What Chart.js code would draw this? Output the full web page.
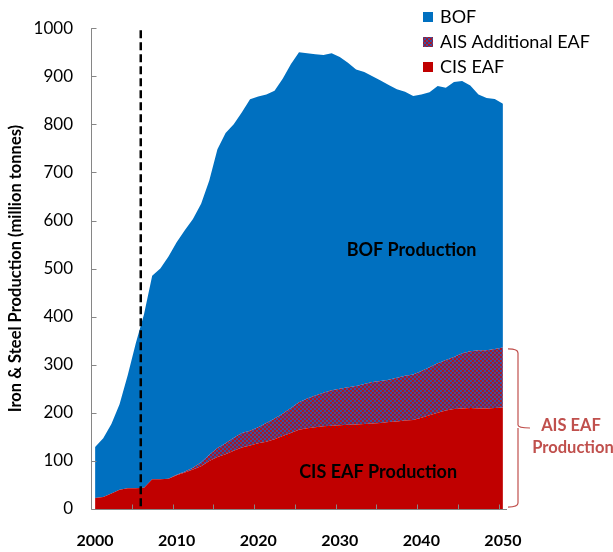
<!DOCTYPE html>
<html><head><meta charset="utf-8">
<script src="https://cdn.jsdelivr.net/npm/chart.js@4.4.1/dist/chart.umd.min.js"></script>
<style>html,body{margin:0;padding:0;background:#fff;}#wrap{width:613px;height:552px;position:relative;}</style>
</head><body><div id="wrap"><canvas id="c" width="613" height="552"></canvas></div>
<script>
const years = [2000,2001,2002,2003,2004,2005,2006,2007,2008,2009,2010,2011,2012,2013,2014,2015,2016,2017,2018,2019,2020,2021,2022,2023,2024,2025,2026,2027,2028,2029,2030,2031,2032,2033,2034,2035,2036,2037,2038,2039,2040,2041,2042,2043,2044,2045,2046,2047,2048,2049,2050];
const cisEaf = [23,25,32,40,43,43,44,62,62,63,70,76,82,89,100,108,114,121,128,132,137,140,145,152,158,165,168,170,172,173,174,175,176,177,178,179,181,182,184,185,190,195,200,205,208,209,210,209,209,210,211];
const aisAdditionalEaf = [0,0,0,0,0,0,0,0,0,0,1,2,4,8,13,19,23,27,30,31,33,39,43,46,52,57,62,66,70,74,76,78,80,83,86,87,88,91,93,95,97,100,103,105,108,115,118,121,121,123,125];
const bof = [106,122,145,178,235,302,361,423,438,462,484,502,517,538,570,621,645,652,667,689,688,683,682,697,715,728,718,710,702,701,690,675,658,649,636,625,613,600,591,579,575,572,577,566,572,566,553,532,525,520,507];
const xLabelYears = [2000,2010,2020,2030,2040,2050];
const xTickMarkYears = [2004.5,2009.5,2014.5,2019.5,2024.5,2029.5,2034.5,2039.5,2044.5,2049.5];
const yTickValues = [0,100,200,300,400,500,600,700,800,900,1000];
const markerYear = 2005.6;
const yTitle = 'Iron & Steel Production (million tonnes)';
const legendNames = ['BOF','AIS Additional EAF','CIS EAF'];
const FONT = 'Lato, "Liberation Sans", sans-serif';
const RED = '#C00000', BLUE = '#0070C0', ANN = '#C0504D', AXIS = '#868686';

const ctx = document.getElementById('c').getContext('2d');
const hatch = (() => {
  const c = document.createElement('canvas'); c.width = 4; c.height = 4;
  const g = c.getContext('2d');
  g.fillStyle = '#A81828'; g.fillRect(0,0,4,4);
  g.fillStyle = '#3A4FA0'; g.fillRect(2,0,2,2); g.fillRect(0,2,2,2);
  return ctx.createPattern(c, 'repeat');
})();
const pts = arr => years.map((yr,i) => ({x: yr, y: arr[i]}));
const legendColors = [BLUE, hatch, RED];

const overlay = {
  id: 'overlay',
  afterDatasetsDraw(chart) {
    const {ctx, chartArea: a, scales: {x, y}} = chart;
    ctx.save();
    ctx.strokeStyle = AXIS; ctx.lineWidth = 1;
    const ax = Math.round(a.left) + 0.5, ay = Math.round(a.bottom) + 0.5;
    ctx.beginPath();
    ctx.moveTo(ax, a.top); ctx.lineTo(ax, ay); ctx.lineTo(a.right, ay);
    yTickValues.forEach(v => { const py = Math.round(y.getPixelForValue(v)) + 0.5; ctx.moveTo(ax, py); ctx.lineTo(ax + 5, py); });
    xTickMarkYears.forEach(v => { const px = Math.round(x.getPixelForValue(v)) + 0.5; ctx.moveTo(px, ay); ctx.lineTo(px, ay - 5); });
    ctx.stroke();
    const mx = x.getPixelForValue(markerYear);
    ctx.strokeStyle = '#000'; ctx.lineWidth = 2.5; ctx.setLineDash([8,4]);
    ctx.beginPath(); ctx.moveTo(mx, a.top + 2); ctx.lineTo(mx, a.bottom - 2); ctx.stroke();
    ctx.setLineDash([]);
    ctx.fillStyle = '#000'; ctx.textAlign = 'center'; ctx.textBaseline = 'middle';
    ctx.font = 'bold 18px ' + FONT;
    ctx.fillText('BOF Production', x.getPixelForValue(2038.8), y.getPixelForValue(539));
    ctx.fillText('CIS EAF Production', x.getPixelForValue(2034.7), y.getPixelForValue(77));
    const bt = y.getPixelForValue(333), bb = y.getPixelForValue(4), bm = (bt + bb) / 2;
    const x0 = a.right + 1, x1 = a.right + 11, x2 = a.right + 23;
    ctx.strokeStyle = ANN; ctx.lineWidth = 1.2;
    ctx.beginPath();
    ctx.moveTo(x0, bt); ctx.quadraticCurveTo(x1, bt, x1, bt + 4);
    ctx.lineTo(x1, bm - 3); ctx.quadraticCurveTo(x1, bm, x2, bm);
    ctx.moveTo(x1, bm + 3); ctx.quadraticCurveTo(x1, bm, x2 - 12, bm);
    ctx.moveTo(x1, bm + 3); ctx.lineTo(x1, bb - 4); ctx.quadraticCurveTo(x1, bb, x0, bb);
    ctx.stroke();
    ctx.fillStyle = ANN; ctx.font = 'bold 16.5px ' + FONT;
    ctx.fillText('AIS EAF', a.right + 64, y.getPixelForValue(174));
    ctx.fillText('Production', a.right + 66, y.getPixelForValue(128));
    ctx.textAlign = 'left'; ctx.font = '18px ' + FONT;
    legendNames.forEach((n, i) => {
      const cy = 17 + i * 25;
      ctx.fillStyle = legendColors[i]; ctx.fillRect(423, cy - 5, 10, 10);
      ctx.fillStyle = '#000'; ctx.fillText(n, 440, cy);
    });
    ctx.restore();
  }
};

new Chart(ctx, {
  type: 'line',
  data: { datasets: [
    { label: 'CIS EAF', data: pts(cisEaf), backgroundColor: RED, borderColor: RED, fill: 'origin' },
    { label: 'AIS Additional EAF', data: pts(aisAdditionalEaf), backgroundColor: hatch, borderColor: 'rgba(0,0,0,0)', fill: '-1' },
    { label: 'BOF', data: pts(bof), backgroundColor: BLUE, borderColor: BLUE, fill: '-1' }
  ]},
  options: {
    responsive: false, animation: false, devicePixelRatio: 1,
    layout: { padding: { top: 27, right: 106, bottom: 0, left: 0 } },
    elements: { point: { radius: 0 }, line: { borderWidth: 0, tension: 0 } },
    plugins: { legend: { display: false }, tooltip: { enabled: false } },
    scales: {
      x: {
        type: 'linear', min: 1999.5, max: 2050.5,
        afterBuildTicks: s => { s.ticks = xLabelYears.map(v => ({ value: v })); },
        afterFit: s => { s.height = 43; },
        grid: { display: false, drawTicks: false }, border: { display: false },
        ticks: { autoSkip: false, maxRotation: 0, padding: 22, color: '#000', font: { family: FONT, size: 16, weight: 'bold' }, callback: v => String(v) }
      },
      y: {
        type: 'linear', stacked: true, min: 0, max: 1000,
        afterBuildTicks: s => { s.ticks = yTickValues.map(v => ({ value: v })); },
        afterFit: s => { s.width = 91; },
        grid: { display: false, drawTicks: false }, border: { display: false },
        ticks: { padding: 18, color: '#000', font: { family: FONT, size: 17 }, callback: v => String(v) },
        title: { display: true, text: yTitle, color: '#000', font: { family: FONT, size: 16.5, weight: 'bold' }, padding: { top: 6, bottom: 0 } }
      }
    }
  },
  plugins: [overlay]
});
</script></body></html>
